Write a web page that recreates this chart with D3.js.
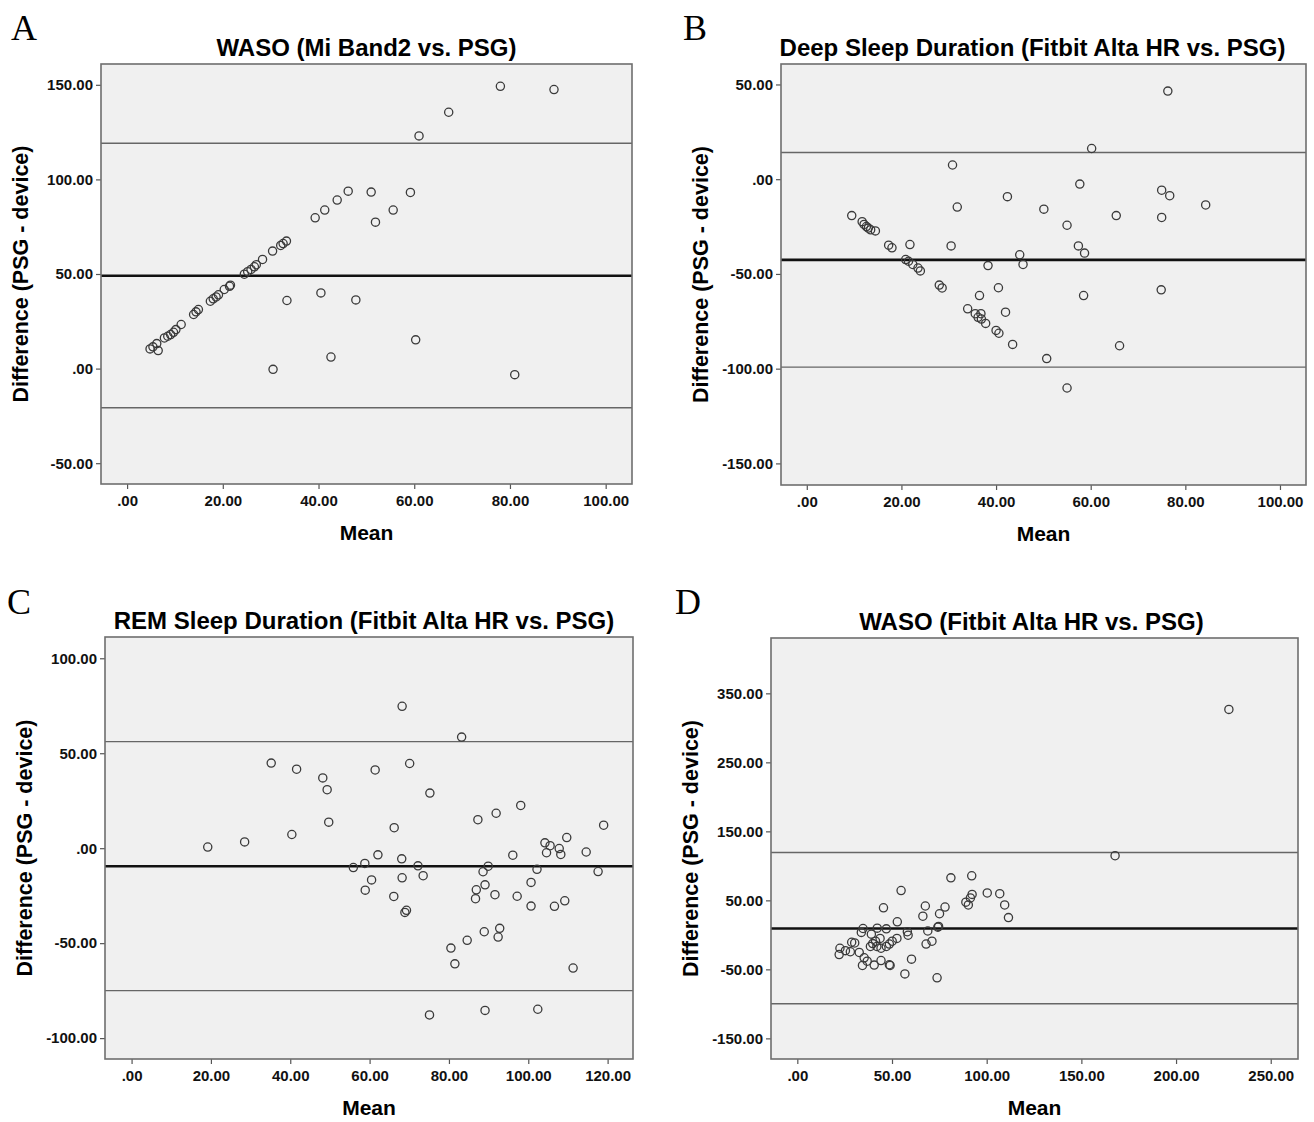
<!DOCTYPE html>
<html>
<head>
<meta charset="utf-8">
<script src="https://cdn.jsdelivr.net/npm/d3@7"></script>
<style>
  body { margin: 0; background: #fff; }
  text { font-family: "Liberation Sans", Arial, sans-serif; }
</style>
</head>
<body>
<svg id="chart" width="1314" height="1122"></svg>
<script>
// Bland-Altman points: [mean, difference]
const waso_mi_band = [
  [4.8,10.4],[5.4,11.5],[6.2,13.2],[6.5,9.5],[7.8,16.2],[8.5,17.1],[9.1,18],[9.7,19.2],
  [10.2,20.6],[11.3,23.3],[13.9,28.6],[14.4,30],[14.9,31.2],[17.4,35.6],[18,36.9],[18.6,37.9],
  [19.1,39],[20.3,41.8],[21.4,43.5],[21.6,44.1],[24.5,49.9],[25.2,51.2],[25.9,52.4],[26.6,53.8],
  [27,54.9],[28.3,57.7],[30.4,62.1],[32.1,65.1],[32.6,66.1],[33.3,67.4],[39.3,79.7],[41.3,83.8],
  [43.9,89.1],[46.2,93.8],[51,93.3],[51.9,77.4],[55.6,83.8],[59.2,93.1],[33.4,36],[40.5,40],
  [47.8,36.3],[30.5,-0.4],[42.6,6.1],[60.3,15.2],[61,123],[67.2,135.5],[78,149.2],[89.2,147.5],
  [81,-3.2]
];
const deep_fitbit = [
  [76.3,46.5],[60.2,16.2],[30.8,7.5],[57.7,-2.6],[75,-5.8],[76.7,-8.7],[42.4,-9.2],[84.3,-13.6],
  [31.8,-14.7],[50.1,-15.8],[65.4,-19.2],[75,-20.2],[9.5,-19.2],[11.7,-22.4],[12.1,-23.9],
  [12.6,-25],[13,-25.8],[13.5,-26.7],[14.5,-27.3],[55,-24.3],[17.3,-34.8],[18,-36.2],[21.8,-34.5],
  [30.5,-35.2],[57.4,-35.2],[58.7,-39],[45,-39.9],[45.7,-45],[20.9,-42.4],[21.5,-43.3],[22.4,-45],
  [23.5,-46.9],[24,-48.4],[38.3,-45.6],[28,-55.9],[28.6,-57.4],[40.5,-57.3],[74.9,-58.4],
  [36.5,-61.4],[58.5,-61.4],[34,-68.4],[35.6,-71],[36.8,-71],[36.2,-72.9],[36.9,-73.8],
  [37.8,-76.1],[42,-70.2],[40,-79.8],[40.6,-81.3],[43.5,-87.2],[66.1,-87.9],[50.7,-94.7],[55,-110.2]
];
const rem_fitbit = [
  [68.2,74.7],[83.2,58.5],[35.2,44.8],[70.1,44.6],[41.6,41.6],[61.4,41.2],[48.2,37],[49.3,30.8],
  [75.2,29],[98.1,22.5],[91.9,18.4],[87.3,15],[49.7,13.7],[119,12.1],[66.2,10.8],[40.4,7.2],
  [109.7,5.6],[28.5,3.3],[104.2,2.8],[105.5,1.3],[19.2,0.6],[107.8,-0.2],[104.6,-2.4],[114.6,-2],
  [108.2,-3.3],[96.1,-3.7],[62.1,-3.5],[68.1,-5.6],[58.8,-8],[72.2,-9.3],[55.9,-10.2],[89.9,-9.5],
  [88.6,-12.4],[102.2,-11.1],[117.6,-12.3],[73.5,-14.5],[68.2,-15.6],[60.5,-16.7],[100.7,-18],
  [89.1,-19.3],[86.9,-21.9],[58.9,-22.1],[91.6,-24.5],[97.2,-25.3],[66.1,-25.4],[86.7,-26.6],
  [109.2,-27.7],[100.7,-30.5],[106.6,-30.6],[69.3,-32.7],[68.9,-33.8],[92.8,-42.2],[88.9,-44],
  [92.4,-46.8],[84.6,-48.5],[80.5,-52.6],[81.5,-60.9],[111.3,-63.1],[75.1,-87.8],[89.1,-85.4],
  [102.4,-84.8]
];
const waso_fitbit = [
  [227.9,326.7],[167.8,114.7],[92.1,85.6],[81.1,82.6],[54.8,64.2],[100.3,60.7],[106.9,59.6],
  [92.3,58.6],[91.4,53.5],[89,47.4],[90.3,43.3],[109.5,43.3],[67.6,41.8],[78,40.3],[45.5,39.2],
  [75.1,30.6],[66.3,27],[111.5,25],[52.8,18.9],[74.6,12.2],[74.2,11.2],[34.7,9.2],[42.2,9.7],
  [47,8.7],[68.9,5.6],[58.1,4.6],[33.8,3.6],[39.1,1],[58.5,-0.5],[43.7,-5.1],[52.6,-5.1],
  [71.1,-9.2],[28.7,-10.7],[30.3,-11.7],[41.3,-9.2],[50.1,-9.2],[39.8,-12.7],[48.6,-13.3],
  [68,-13.3],[47,-16.8],[42,-16.8],[38.6,-16.8],[44.2,-19.4],[22.5,-19.4],[25.4,-22.9],
  [32.7,-25.5],[28,-24.5],[22.1,-28.5],[35.3,-33.2],[60.3,-35.2],[36.9,-38.2],[44.2,-37.2],
  [34.4,-44.3],[40.6,-43.8],[48.6,-43.3],[49,-44.3],[56.8,-56.6],[73.8,-62.2]
];

// [upper limit, mean difference, lower limit]
const waso_mi_band_lines = [119.1, 49.1, -20.7];
const deep_fitbit_lines = [14.1, -42.6, -99.2];
const rem_fitbit_lines = [56.1, -9.5, -75];
const waso_fitbit_lines = [119.3, 9.2, -99.9];

const x_ticks_100 = [0, 20, 40, 60, 80, 100];
const x_ticks_120 = [0, 20, 40, 60, 80, 100, 120];
const x_ticks_250 = [0, 50, 100, 150, 200, 250];
const y_ticks_a = [-50, 0, 50, 100, 150];
const y_ticks_b = [-150, -100, -50, 0, 50];
const y_ticks_c = [-100, -50, 0, 50, 100];
const y_ticks_d = [-150, -50, 50, 150, 250, 350];

const titles = [
  "WASO (Mi Band2 vs. PSG)",
  "Deep Sleep Duration (Fitbit Alta HR vs. PSG)",
  "REM Sleep Duration (Fitbit Alta HR vs. PSG)",
  "WASO (Fitbit Alta HR vs. PSG)"
];
const letters = ["A", "B", "C", "D"];

const panels = [
  { data: waso_mi_band, lines: waso_mi_band_lines, x_ticks: x_ticks_100, y_ticks: y_ticks_a,
    x_domain: [-5.45, 105.5], y_domain: [-61, 161],
    box: { left: 101, right: 632, top: 64, bottom: 484 }, letter_x: 11, letter_y: 40, title_dx: 0 },
  { data: deep_fitbit, lines: deep_fitbit_lines, x_ticks: x_ticks_100, y_ticks: y_ticks_b,
    x_domain: [-5.45, 105.5], y_domain: [-161.4, 60.8],
    box: { left: 781, right: 1306, top: 64, bottom: 485 }, letter_x: 683, letter_y: 40, title_dx: -11 },
  { data: rem_fitbit, lines: rem_fitbit_lines, x_ticks: x_ticks_120, y_ticks: y_ticks_c,
    x_domain: [-6.7, 126.4], y_domain: [-111, 111.2],
    box: { left: 105, right: 633, top: 637, bottom: 1059 }, letter_x: 7, letter_y: 614, title_dx: -5 },
  { data: waso_fitbit, lines: waso_fitbit_lines, x_ticks: x_ticks_250, y_ticks: y_ticks_d,
    x_domain: [-13.9, 264.4], y_domain: [-179.9, 430.2],
    box: { left: 771, right: 1298, top: 638, bottom: 1059 }, letter_x: 675, letter_y: 614, title_dx: -3 }
];

// SPSS style: ".00", "-50.00" (plain hyphen)
const fmt = (v) => d3.format(".2f")(v).replace("\u2212", "-").replace(/^(-?)0\./, "$1.");

const svg = d3.select("#chart");

function draw_panel(p, i) {
  const b = p.box;
  const g = svg.append("g");
  const x = d3.scaleLinear().domain(p.x_domain).range([b.left, b.right]);
  const y = d3.scaleLinear().domain(p.y_domain).range([b.bottom, b.top]);

  // Panel letter & title:
  g.append("text").attr("x", p.letter_x).attr("y", p.letter_y)
    .style("font-family", "'Liberation Serif', 'Times New Roman', serif")
    .style("font-size", "36px").text(letters[i]);
  g.append("text").attr("x", (b.left + b.right) / 2 + p.title_dx).attr("y", b.top - 8)
    .attr("text-anchor", "middle").style("font-size", "24px").style("font-weight", "bold")
    .text(titles[i]);

  // Plot background:
  g.append("rect").attr("x", b.left).attr("y", b.top)
    .attr("width", b.right - b.left).attr("height", b.bottom - b.top)
    .attr("fill", "#f0f0f0");

  // Axes:
  const x_axis = g.append("g").attr("transform", `translate(0,${b.bottom})`)
    .call(d3.axisBottom(x).tickValues(p.x_ticks).tickSize(5).tickPadding(6).tickFormat(fmt));
  const y_axis = g.append("g").attr("transform", `translate(${b.left},0)`)
    .call(d3.axisLeft(y).tickValues(p.y_ticks).tickSize(5).tickPadding(3).tickFormat(fmt));
  [x_axis, y_axis].forEach((a) => {
    a.select(".domain").remove();
    a.selectAll(".tick line").attr("stroke", "#555").attr("stroke-width", 1.2);
    a.selectAll(".tick text").attr("fill", "#111")
      .style("font-size", "15px").style("font-weight", "bold")
      .style("font-family", "'Liberation Sans', Arial, sans-serif");
  });

  // Limits of agreement & mean:
  g.selectAll(".ref").data(p.lines).join("line")
    .attr("x1", b.left).attr("x2", b.right)
    .attr("y1", (d) => y(d)).attr("y2", (d) => y(d))
    .attr("stroke", (d, k) => k === 1 ? "#111" : "#666")
    .attr("stroke-width", (d, k) => k === 1 ? 2.6 : 1.4);

  // Points:
  g.selectAll(".pt").data(p.data).join("circle")
    .attr("cx", (d) => x(d[0])).attr("cy", (d) => y(d[1])).attr("r", 4.1)
    .attr("fill", "none").attr("stroke", "#3a3a3a").attr("stroke-width", 1.3);

  // Frame:
  g.append("rect").attr("x", b.left).attr("y", b.top)
    .attr("width", b.right - b.left).attr("height", b.bottom - b.top)
    .attr("fill", "none").attr("stroke", "#6e6e6e").attr("stroke-width", 1.6);

  // Axis titles:
  g.append("text").attr("x", (b.left + b.right) / 2).attr("y", b.bottom + 56)
    .attr("text-anchor", "middle").style("font-size", "21px").style("font-weight", "bold")
    .text("Mean");
  g.append("text")
    .attr("transform", `translate(${b.left - 73},${(b.top + b.bottom) / 2}) rotate(-90)`)
    .attr("text-anchor", "middle").style("font-size", "21.5px").style("font-weight", "bold")
    .text("Difference (PSG - device)");
}

panels.forEach(draw_panel);
</script>
</body>
</html>
